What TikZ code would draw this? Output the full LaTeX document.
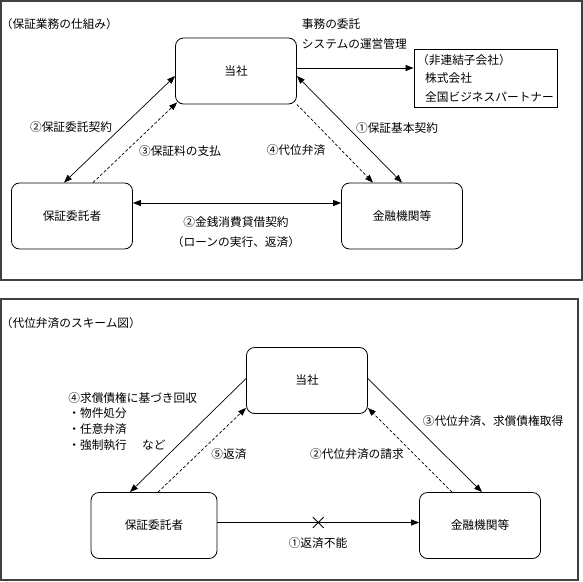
\documentclass[tikz,border=0pt]{standalone}
\usepackage{fontspec}
\setmainfont{Noto Sans CJK JP}
\usetikzlibrary{arrows.meta,shapes.misc}

\begin{document}
\begin{tikzpicture}
  [x=1pt,y=-1pt,
   font=\fontsize{11.7pt}{15.8pt}\selectfont,
   line width=0.7pt,
   roundN/.style={draw,rounded corners=8pt,minimum width=121pt,minimum height=66pt,line width=0.8pt},
   squareN/.style={draw,align=left,minimum width=143pt,minimum height=58pt,inner sep=0pt,line width=0.8pt,
     font=\fontsize{11.7pt}{18.5pt}\selectfont},
   textN/.style={inner sep=0pt,anchor=west},
   frameN/.style={draw=black!75,line width=1.2pt},
   crossN/.style={cross out,draw,minimum size=10pt,inner sep=0pt,line width=0.8pt},
   tipA/.style={-{Triangle[length=8pt,width=6pt]}},
   tipB/.style={{Triangle[length=8pt,width=6pt]}-{Triangle[length=8pt,width=6pt]}},
   dashN/.style={dash pattern=on 3pt off 2pt}]

  \useasboundingbox (0,0) rectangle (583,581);

  % upper panel
  \draw[frameN] (1,1) rectangle (582,280);
  \node[textN] (title1) at (0.5,24) {（保証業務の仕組み）};

  \node[roundN] (tousha1) at (236,71) {当社};
  \node[roundN] (itaku1) at (72,216) {保証委託者};
  \node[roundN] (kinyu1) at (402,216) {金融機関等};
  \node[squareN] (partner) at (485.5,78)
    {（非連結子会社）\\\hspace{8pt}株式会社\\\hspace{8pt}全国ビジネスパートナー};

  \node[textN] (task1) at (301.5,24) {事務の委託};
  \node[textN] (task2) at (301.5,44) {システムの運営管理};

  \draw[tipA] ([yshift=3pt]tousha1.east) coordinate (t1) -- (t1 -| partner.west);
  \draw[tipB] ([xshift=-8pt]itaku1.north) -- ([yshift=-5pt]tousha1.west);
  \draw[tipA,dashN] ([xshift=21pt]itaku1.north) -- ([shift={(2pt,2pt)}]tousha1.south west);
  \draw[tipA,dashN] (tousha1.south east) -- ([xshift=-29pt]kinyu1.north);
  \draw[tipB] ([yshift=-5pt]tousha1.east) -- (kinyu1.north);
  \draw[tipB] ([yshift=13pt]itaku1.east) -- ([yshift=13pt]kinyu1.west);

  \node (lab2a) at (71,127) {②保証委託契約};
  \node (lab3a) at (180,151) {③保証料の支払};
  \node (lab4a) at (296,150) {④代位弁済};
  \node (lab1a) at (397,128) {①保証基本契約};
  \node[align=center,font=\fontsize{11.7pt}{20pt}\selectfont] (lab2b) at (236,232)
    {②金銭消費貸借契約\\（ローンの実行、返済）};

  % lower panel
  \draw[frameN] (1,299) rectangle (578,580);
  \node[textN] (title2) at (0.5,323) {（代位弁済のスキーム図）};

  \node[roundN] (tousha2) at (307,380.5) {当社};
  \node[roundN,minimum width=126pt] (itaku2) at (154,525.5) {保証委託者};
  \node[roundN] (kinyu2) at (480,525.5) {金融機関等};

  \draw[tipA] ([yshift=2pt]tousha2.west) -- ([xshift=-24pt]itaku2.north);
  \draw[tipA,dashN] ([xshift=4pt]itaku2.north) -- ([yshift=6pt]tousha2.south west);
  \draw[tipA] ([yshift=2pt]tousha2.east) -- ([xshift=2pt]kinyu2.north);
  \draw[tipA,dashN] ([xshift=-28pt]kinyu2.north) -- ([yshift=6pt]tousha2.south east);
  \draw[tipA] ([yshift=3pt]itaku2.east) -- ([yshift=3pt]kinyu2.west)
    node[crossN,midway] (ng) {};

  \node[textN,align=left] (lab4b) at (68,421.5)
    {④求償債権に基づき回収\\・物件処分\\・任意弁済\\・強制執行\hspace{1.3em}など};
  \node (lab5b) at (229,454) {⑤返済};
  \node (lab2c) at (357,454) {②代位弁済の請求};
  \node (lab3b) at (493,421) {③代位弁済、求償債権取得};
  \node (lab1b) at (318,542.7) {①返済不能};

\end{tikzpicture}
\end{document}
